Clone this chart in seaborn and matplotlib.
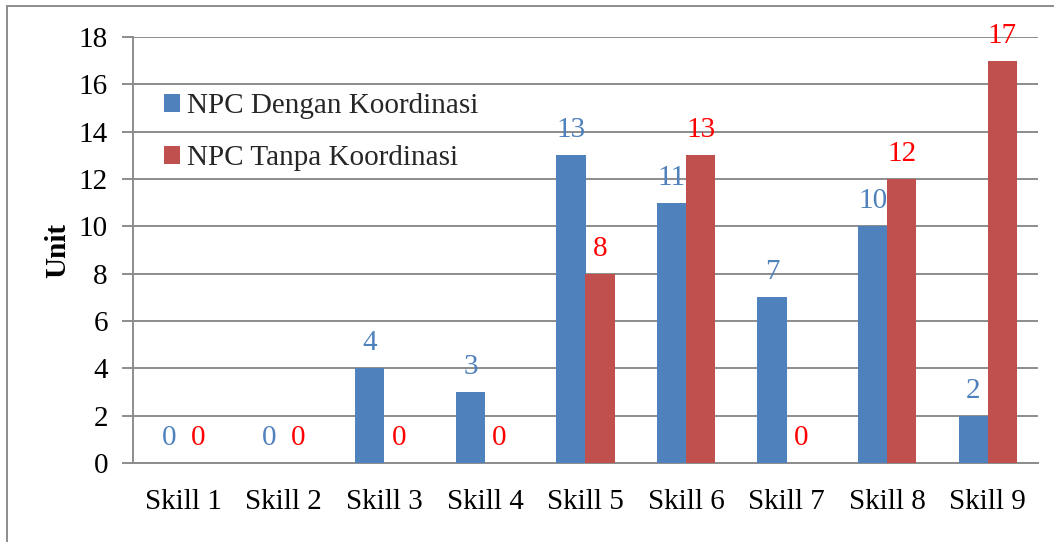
import matplotlib
matplotlib.use("Agg")
import matplotlib.pyplot as plt
import matplotlib.patches as mpatches
import pandas as pd
import seaborn as sns

skills = ["Skill 1", "Skill 2", "Skill 3", "Skill 4", "Skill 5",
          "Skill 6", "Skill 7", "Skill 8", "Skill 9"]
dengan = [0, 0, 4, 3, 13, 11, 7, 10, 2]
tanpa = [0, 0, 0, 0, 8, 13, 0, 12, 17]
series_names = ["NPC Dengan Koordinasi", "NPC Tanpa Koordinasi"]
yticks = [0, 2, 4, 6, 8, 10, 12, 14, 16, 18]

bar_colors = ["#4F81BD", "#C0504D"]
label_colors = ["#4F81BD", "#FF0000"]
grid_color = "#8C8C8C"
fs = 21

df = pd.DataFrame({
    "skill": skills * 2,
    "value": dengan + tanpa,
    "series": [series_names[0]] * len(skills) + [series_names[1]] * len(skills),
})

sns.set_theme(style="white")
plt.rcParams["font.family"] = ["Liberation Serif", "DejaVu Serif"]

fig = plt.figure(figsize=(10.54, 5.42), dpi=100)
ax = fig.add_axes([133 / 1054, 1 - 463 / 542, 905 / 1054, 426 / 542])

sns.barplot(data=df, x="skill", y="value", hue="series", order=skills,
            hue_order=series_names, palette=bar_colors, saturation=1,
            width=0.58, gap=0, linewidth=0, ax=ax, legend=False, zorder=3)

ax.set_ylim(0, 18)
ax.set_xlim(-0.5, len(skills) - 0.5)
ax.set_yticks(yticks)
ax.yaxis.grid(True, color=grid_color, linewidth=1.4, zorder=0)
ax.set_axisbelow(True)

for side in ["top", "right"]:
    ax.spines[side].set_visible(False)
for side in ["left", "bottom"]:
    ax.spines[side].set_color(grid_color)
    ax.spines[side].set_linewidth(1.4)

ax.tick_params(axis="y", direction="out", length=8, width=1.4,
               color=grid_color, labelsize=fs, labelcolor="black", pad=10, left=True)
ax.tick_params(axis="x", length=0, labelsize=fs, labelcolor="black", pad=19)

ax.set_xlabel("")
ax.set_ylabel("Unit", fontsize=fs, fontweight="bold", color="black")
ax.yaxis.set_label_coords(-0.068, 0.5)

# value labels above every bar, including the zero-height ones
for container, color in zip(ax.containers, label_colors):
    for rect in container:
        h = rect.get_height()
        ax.annotate(f"{int(round(h))}",
                    xy=(rect.get_x() + rect.get_width() / 2, h),
                    xytext=(0, 13), textcoords="offset points",
                    ha="center", va="baseline", fontsize=fs, color=color)

handles = [mpatches.Patch(color=c, linewidth=0) for c in bar_colors]
ax.legend(handles, series_names, loc="upper left",
          bbox_to_anchor=(0.034, 0.868), frameon=False, fontsize=fs,
          handlelength=0.55, handleheight=0.55, handletextpad=0.25,
          labelspacing=0.9, borderaxespad=0, borderpad=0)

# outer chart frame
fig.patches.append(mpatches.Rectangle((7 / 1054, -0.2), 1.5, (542 - 6) / 542 + 0.2,
                                      transform=fig.transFigure, fill=False,
                                      edgecolor=grid_color, linewidth=1.4))

fig.savefig("out.png", dpi=100)
